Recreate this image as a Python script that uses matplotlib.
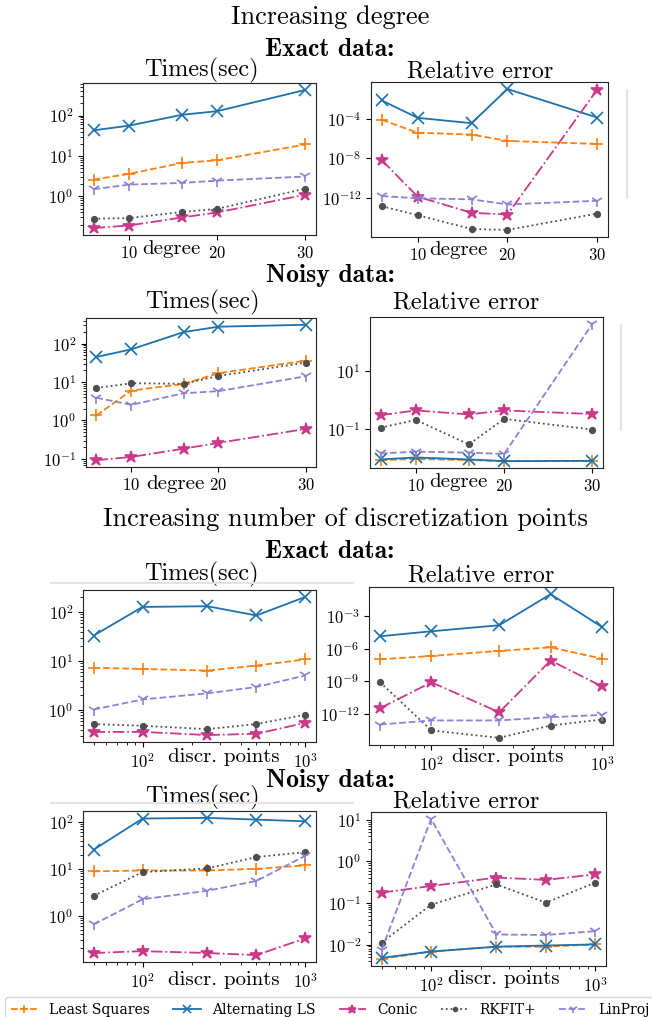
import numpy as np
import matplotlib
matplotlib.use('Agg')
import matplotlib.pyplot as plt
from matplotlib.lines import Line2D

plt.rcParams['font.family'] = 'cmr10'
plt.rcParams['mathtext.fontset'] = 'cm'
plt.rcParams['axes.formatter.use_mathtext'] = True

degree = [6, 10, 16, 20, 30]
npoints = [50, 100, 250, 500, 1000]
methods = ['Least Squares', 'Alternating LS', 'Conic', 'RKFIT+', 'LinProj']

# each panel: one list per method, same order as `methods`
deg_exact_time = [[2.6, 3.6, 6.7, 7.8, 19.2],
                  [43, 56, 104, 128, 430],
                  [0.164, 0.19, 0.30, 0.40, 1.1],
                  [0.28, 0.29, 0.41, 0.49, 1.55],
                  [1.5, 1.95, 2.15, 2.45, 3.1]]
deg_exact_err = [[8.5e-5, 4.2e-6, 2.7e-6, 6.1e-7, 3e-7],
                 [8e-3, 1.35e-4, 3.9e-5, 0.115, 1.45e-4],
                 [6.7e-9, 1.3e-12, 3e-14, 2e-14, 0.1],
                 [1.4e-13, 1.7e-14, 6.8e-16, 5.4e-16, 2.5e-14],
                 [1.5e-12, 9e-13, 7e-13, 2.1e-13, 5e-13]]
deg_noisy_time = [[1.35, 6.0, 8.9, 17, 36],
                  [45, 71, 200, 276, 310],
                  [0.092, 0.112, 0.184, 0.26, 0.6],
                  [7.0, 9.3, 9.0, 14.4, 32],
                  [3.9, 2.55, 5.1, 5.8, 14.1]]
deg_noisy_err = [[0.0083, 0.009, 0.0083, 0.0076, 0.0076],
                 [0.0087, 0.0102, 0.0087, 0.0076, 0.0078],
                 [0.30, 0.44, 0.32, 0.44, 0.33],
                 [0.111, 0.206, 0.029, 0.224, 0.095],
                 [0.0141, 0.0162, 0.0150, 0.0135, 450]]
pts_exact_time = [[7.3, 6.9, 6.4, 8.1, 10.8],
                  [33, 127, 131, 85, 203],
                  [0.36, 0.36, 0.31, 0.33, 0.55],
                  [0.52, 0.48, 0.41, 0.52, 0.81],
                  [1.03, 1.65, 2.2, 2.96, 5.1]]
pts_exact_err = [[1.04e-7, 2.1e-7, 6.1e-7, 1.3e-6, 1.2e-7],
                 [1.35e-5, 3.9e-5, 1.4e-4, 0.1, 9.8e-5],
                 [3.3e-12, 8e-10, 1.4e-12, 8e-8, 3.4e-10],
                 [8e-10, 3e-14, 6.3e-15, 8.5e-14, 3e-13],
                 [1.05e-13, 2.5e-13, 2.5e-13, 5e-13, 8e-13]]
pts_noisy_time = [[8.8, 9.2, 9.2, 10, 11.8],
                  [25.5, 118, 122, 112, 103],
                  [0.16, 0.175, 0.16, 0.144, 0.33],
                  [2.65, 8.5, 10.2, 17.8, 22.7],
                  [0.65, 2.24, 3.4, 5.5, 19]]
pts_noisy_err = [[0.0045, 0.0068, 0.0089, 0.0089, 0.0101],
                 [0.0048, 0.0068, 0.0089, 0.0095, 0.0101],
                 [0.178, 0.256, 0.41, 0.36, 0.49],
                 [0.0112, 0.091, 0.28, 0.102, 0.31],
                 [0.0075, 10.5, 0.0175, 0.017, 0.021]]

pts_exact_err_ticks = [1e-12, 1e-9, 1e-6, 1e-3]

styles = [dict(color='#ff7f0e', ls='--', marker='+', ms=9),
          dict(color='#1b72ae', ls='-', marker='x', ms=9),
          dict(color='#c93a8a', ls='-.', marker='*', ms=9),
          dict(color='#4f4f4f', ls=':', marker='o', ms=4),
          dict(color='#8f80d4', ls='--', marker='1', ms=9)]

W, H = 652, 1017
fig = plt.figure(figsize=(W / 100, H / 100), dpi=100)

def box(l, r, t, b):
    return [l / W, 1 - b / H, (r - l) / W, (b - t) / H]

# (data, x, xlog, xlabel, title, rect, title x, title pad, label coords)
panels = [
    (deg_exact_time, degree, False, 'degree', 'Times(sec)', box(83, 316, 83, 235), 0.509, 4, (0.38, -0.035)),
    (deg_exact_err, degree, False, 'degree', 'Relative error', box(371, 608, 82, 237), 0.461, 2.4, (0.37, -0.025)),
    (deg_noisy_time, degree, False, 'degree', 'Times(sec)', box(86, 316, 318, 467), 0.507, 7, (0.39, -0.055)),
    (deg_noisy_err, degree, False, 'degree', 'Relative error', box(370, 603, 317, 468), 0.413, 5.8, (0.38, -0.035)),
    (pts_exact_time, npoints, True, 'discr. points', 'Times(sec)', box(83, 316, 590, 742), 0.509, 7, (0.605, -0.04)),
    (pts_exact_err, npoints, True, 'discr. points', 'Relative error', box(369, 613, 587, 745), 0.459, 4, (0.57, -0.022)),
    (pts_noisy_time, npoints, True, 'discr. points', 'Times(sec)', box(83, 316, 811, 962), 0.513, 5.3, (0.605, -0.062)),
    (pts_noisy_err, npoints, True, 'discr. points', 'Relative error', box(371, 606, 812, 966), 0.406, 2.9, (0.566, -0.026)),
]

handles = []
for data, xs, xlog, xlabel, title, rect, tx, pad, lc in panels:
    ax = fig.add_axes(rect)
    hs = []
    for ys, st in zip(data, styles):
        h, = ax.plot(xs, ys, lw=1.3, markeredgewidth=1.2, **st)
        hs.append(h)
    handles = hs
    ax.set_yscale('log')
    if xlog:
        ax.set_xscale('log')
    else:
        ax.set_xticks([10, 20, 30])
    if data is pts_exact_err:
        ax.set_yticks(pts_exact_err_ticks)
    ax.set_title(title, fontsize=17.5, pad=pad, x=tx)
    ax.set_xlabel(xlabel, fontsize=15)
    ax.xaxis.set_label_coords(*lc)
    ax.tick_params(labelsize=12)
    for sp in ax.spines.values():
        sp.set_color('#222222')

# headings
fig.text(330 / W, 1 - 17 / H, 'Increasing degree', fontsize=19, ha='center', va='center')
fig.text(330 / W, 1 - 50 / H, 'Exact data:', fontsize=18.5, family='cmb10', ha='center', va='center')
fig.text(330 / W, 1 - 275 / H, 'Noisy data:', fontsize=18.5, family='cmb10', ha='center', va='center')
fig.text(345 / W, 1 - 519 / H, 'Increasing number of discretization points', fontsize=19,
         ha='center', va='center')
fig.text(330 / W, 1 - 551 / H, 'Exact data:', fontsize=18.5, family='cmb10', ha='center', va='center')
fig.text(330 / W, 1 - 781 / H, 'Noisy data:', fontsize=18.5, family='cmb10', ha='center', va='center')

# faint edges of clipped legend frames
for xa, xb, ya, yb in [(627, 627, 90, 198), (621, 621, 325, 430), (51, 353, 583, 583), (51, 353, 803, 803)]:
    fig.add_artist(Line2D([xa / W, xb / W], [1 - ya / H, 1 - yb / H], color='#e3e3e3', lw=1.5))

fig.legend(handles, methods, loc='upper left', bbox_to_anchor=(5 / W, 1 - 997 / H), ncol=5,
           prop={'family': 'DejaVu Serif', 'size': 10}, columnspacing=1.65, markerscale=0.7,
           borderaxespad=0)

fig.savefig('out.png', dpi=100)
